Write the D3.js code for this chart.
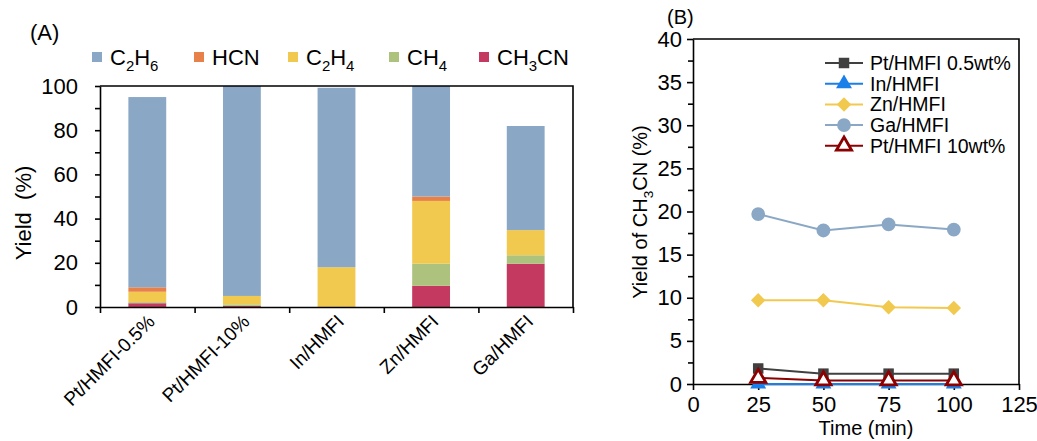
<!DOCTYPE html>
<html>
<head>
<meta charset="utf-8">
<script src="https://cdn.jsdelivr.net/npm/d3@7"></script>
<style>
  body { margin: 0; background: #fff; }
  svg { display: block; font-family: "Liberation Sans", Arial, sans-serif; }
</style>
</head>
<body>
<svg id="chart" width="1037" height="441"></svg>
<script>
'use strict';

// (A) yields, %
var catalysts = ['Pt/HMFI-0.5%', 'Pt/HMFI-10%', 'In/HMFI', 'Zn/HMFI', 'Ga/HMFI'];
var ch3cnYield = [1.7, 0.5, 0, 9.6, 19.6];
var ch4Yield = [0.5, 0.7, 0, 10.0, 3.8];
var c2h4Yield = [4.7, 3.8, 18.0, 28.4, 11.4];
var hcnYield = [2.0, 0, 0, 2.0, 0];
var c2h6Yield = [86.1, 95.0, 81.2, 50.0, 47.1];
var yieldTicks = [0, 20, 40, 60, 80, 100];

// (B) CH3CN yield vs time
var times = [25, 50, 75, 100];
var pt05Series = [1.8, 1.2, 1.2, 1.2];
var inSeries = [0.0, 0.0, 0.0, 0.0];
var znSeries = [9.7, 9.7, 8.9, 8.8];
var gaSeries = [19.7, 17.8, 18.5, 17.9];
var pt10Series = [0.7, 0.4, 0.4, 0.4];
var timeTicks = [0, 25, 50, 75, 100, 125];
var ch3cnTicks = [0, 5, 10, 15, 20, 25, 30, 35, 40];

var svg = d3.select('#chart');
var FONT = '"Liberation Sans", Arial, sans-serif';

function styleAxis(g, size) {
  g.attr('font-size', size).attr('font-family', FONT);
  g.select('.domain').attr('stroke-width', 1.6);
  g.selectAll('.tick line').attr('stroke-width', 1.6);
  g.selectAll('.tick text').attr('fill', '#000');
}

// parts: [text, isSub]; subscripts drop and the next piece comes back up
function richText(sel, parts, size) {
  var drop = size * 0.28;
  var lastSub = false;
  parts.forEach(function (p) {
    var sub = !!p[1];
    sel.append('tspan')
        .attr('font-size', sub ? size * 0.68 : size)
        .attr('dy', sub ? drop : (lastSub ? -drop : 0))
        .text(p[0]);
    lastSub = sub;
  });
}

// ---------- Panel A ----------
var keys = ['ch3cn', 'ch4', 'c2h4', 'hcn', 'c2h6'];
var colors = {
  c2h6: '#8aa8c5',
  hcn: '#e8804a',
  c2h4: '#f2c94f',
  ch4: '#adc27d',
  ch3cn: '#c4395f'
};
var rows = catalysts.map(function (c, i) {
  return {
    name: c,
    ch3cn: ch3cnYield[i],
    ch4: ch4Yield[i],
    c2h4: c2h4Yield[i],
    hcn: hcnYield[i],
    c2h6: c2h6Yield[i]
  };
});

var xA = d3.scaleBand()
    .domain(catalysts)
    .range([100, 573])
    .paddingInner(0.6)
    .paddingOuter(0.3);
var xEdge = d3.scaleLinear().domain([0, catalysts.length]).range([100, 573]);
var yA = d3.scaleLinear().domain([0, 100]).range([307, 86]);

var stacked = d3.stack().keys(keys)(rows);

svg.append('g')
    .selectAll('g')
    .data(stacked)
  .enter().append('g')
    .attr('fill', function (s) { return colors[s.key]; })
    .selectAll('rect')
    .data(function (s) { return s; })
  .enter().append('rect')
    .attr('x', function (d) { return xA(d.data.name); })
    .attr('width', xA.bandwidth())
    .attr('y', function (d) { return yA(d[1]); })
    .attr('height', function (d) { return yA(d[0]) - yA(d[1]); });

// box
svg.append('path')
    .attr('d', 'M' + xEdge(0) + ',' + yA(100) + 'H' + xEdge(catalysts.length) + 'V' + yA(0))
    .attr('fill', 'none')
    .attr('stroke', '#000')
    .attr('stroke-width', 1.6);

svg.append('g')
    .attr('transform', 'translate(100,0)')
    .call(d3.axisLeft(yA).tickValues(d3.range(10, 100, 20)).tickSize(5).tickFormat(''))
    .call(function (g) { g.select('.domain').remove(); })
    .call(styleAxis, 22);

svg.append('g')
    .attr('transform', 'translate(100,0)')
    .call(d3.axisLeft(yA).tickValues(yieldTicks).tickSize(5).tickSizeOuter(0).tickPadding(17))
    .call(styleAxis, 22);

svg.append('g')
    .attr('transform', 'translate(0,' + yA(0) + ')')
    .call(d3.axisBottom(xEdge).ticks(catalysts.length).tickSize(6).tickSizeOuter(0).tickFormat(''))
    .call(styleAxis, 18);

svg.append('g')
    .selectAll('text')
    .data(catalysts)
  .enter().append('text')
    .attr('transform', function (d) {
      return 'translate(' + (xA(d) + xA.bandwidth() / 2 + 4) + ',318) rotate(-45)';
    })
    .attr('text-anchor', 'end')
    .attr('dy', '0.35em')
    .attr('font-size', 19)
    .text(function (d) { return d; });

svg.append('text')
    .attr('transform', 'translate(31,213) rotate(-90)')
    .attr('text-anchor', 'middle')
    .attr('font-size', 22)
    .style('white-space', 'pre')
    .text('Yield  (%)');

svg.append('text')
    .attr('x', 30)
    .attr('y', 40)
    .attr('font-size', 22)
    .text('(A)');

// legend A
var legendA = [
  { key: 'c2h6', x: 92, parts: [['C'], ['2', true], ['H'], ['6', true]] },
  { key: 'hcn', x: 194, parts: [['HCN']] },
  { key: 'c2h4', x: 288, parts: [['C'], ['2', true], ['H'], ['4', true]] },
  { key: 'ch4', x: 389, parts: [['CH'], ['4', true]] },
  { key: 'ch3cn', x: 479, parts: [['CH'], ['3', true], ['CN']] }
];
legendA.forEach(function (item) {
  svg.append('rect')
      .attr('x', item.x)
      .attr('y', 52)
      .attr('width', 10)
      .attr('height', 10)
      .attr('fill', colors[item.key]);
  var t = svg.append('text')
      .attr('x', item.x + 18)
      .attr('y', 65)
      .attr('font-size', 22);
  richText(t, item.parts, 22);
});

// ---------- Panel B ----------
var xB = d3.scaleLinear().domain([0, 125]).range([693, 1019]);
var yB = d3.scaleLinear().domain([0, 40]).range([384, 39]);

svg.append('path')
    .attr('d', 'M' + xB(0) + ',' + yB(40) + 'H' + xB(125) + 'V' + yB(0))
    .attr('fill', 'none')
    .attr('stroke', '#000')
    .attr('stroke-width', 1.6);

svg.append('g')
    .attr('transform', 'translate(' + xB(0) + ',0)')
    .call(d3.axisLeft(yB).tickValues(d3.range(2.5, 40, 5)).tickSize(5).tickFormat(''))
    .call(function (g) { g.select('.domain').remove(); })
    .call(styleAxis, 22);

svg.append('g')
    .attr('transform', 'translate(' + xB(0) + ',0)')
    .call(d3.axisLeft(yB).tickValues(ch3cnTicks).tickSize(6).tickSizeOuter(0).tickPadding(5))
    .call(styleAxis, 22);

svg.append('g')
    .attr('transform', 'translate(0,' + yB(0) + ')')
    .call(d3.axisBottom(xB).tickValues(timeTicks).tickSize(6).tickSizeOuter(0).tickPadding(6))
    .call(styleAxis, 22);

var series = [
  { name: 'Pt/HMFI 0.5wt%', values: pt05Series, color: '#404040', symbol: d3.symbolSquare, size: 110, fill: '#404040' },
  { name: 'In/HMFI', values: inSeries, color: '#1a7fe8', symbol: d3.symbolTriangle, size: 110, fill: '#1a7fe8' },
  { name: 'Zn/HMFI', values: znSeries, color: '#f2c94f', symbol: d3.symbolSquare, size: 105, fill: '#f2c94f', rotate: 45 },
  { name: 'Ga/HMFI', values: gaSeries, color: '#8aa8c5', symbol: d3.symbolCircle, size: 150, fill: '#8aa8c5' },
  { name: 'Pt/HMFI 10wt%', values: pt10Series, color: '#8b0000', symbol: d3.symbolTriangle, size: 100, fill: '#fff', stroke: 2.8 }
];

var line = d3.line()
    .x(function (d) { return xB(d.t); })
    .y(function (d) { return yB(d.v); });

function markerTransform(s, x, y) {
  return 'translate(' + x + ',' + y + ')' + (s.rotate ? ' rotate(' + s.rotate + ')' : '');
}

var drawOrder = [3, 2, 0, 1, 4];
drawOrder.forEach(function (idx) {
  var s = series[idx];
  var pts = times.map(function (t, i) { return { t: t, v: s.values[i] }; });
  var g = svg.append('g');
  g.append('path')
      .attr('d', line(pts))
      .attr('fill', 'none')
      .attr('stroke', s.color)
      .attr('stroke-width', 2);
  g.selectAll('path.m')
      .data(pts)
    .enter().append('path')
      .attr('class', 'm')
      .attr('d', d3.symbol().type(s.symbol).size(s.size))
      .attr('transform', function (d) { return markerTransform(s, xB(d.t), yB(d.v)); })
      .attr('fill', s.fill)
      .attr('stroke', s.stroke ? s.color : 'none')
      .attr('stroke-width', s.stroke || 0);
});

// legend B
series.forEach(function (s, i) {
  var y = 63 + i * 20.7;
  svg.append('line')
      .attr('x1', 825).attr('x2', 863)
      .attr('y1', y).attr('y2', y)
      .attr('stroke', s.color)
      .attr('stroke-width', 2);
  svg.append('path')
      .attr('d', d3.symbol().type(s.symbol).size(s.size))
      .attr('transform', markerTransform(s, 844, y))
      .attr('fill', s.fill)
      .attr('stroke', s.stroke ? s.color : 'none')
      .attr('stroke-width', s.stroke || 0);
  svg.append('text')
      .attr('x', 870)
      .attr('y', y + 7)
      .attr('font-size', 19.5)
      .text(s.name);
});

svg.append('text')
    .attr('x', (xB(0) + xB(125)) / 2 + 10)
    .attr('y', 435)
    .attr('text-anchor', 'middle')
    .attr('font-size', 20)
    .text('Time (min)');

var yLabB = svg.append('text')
    .attr('transform', 'translate(647,212) rotate(-90)')
    .attr('text-anchor', 'middle')
    .attr('font-size', 20);
richText(yLabB, [['Yield of CH'], ['3', true], ['CN (%)']], 20);

svg.append('text')
    .attr('x', 667)
    .attr('y', 24)
    .attr('font-size', 20)
    .text('(B)');
</script>
</body>
</html>
